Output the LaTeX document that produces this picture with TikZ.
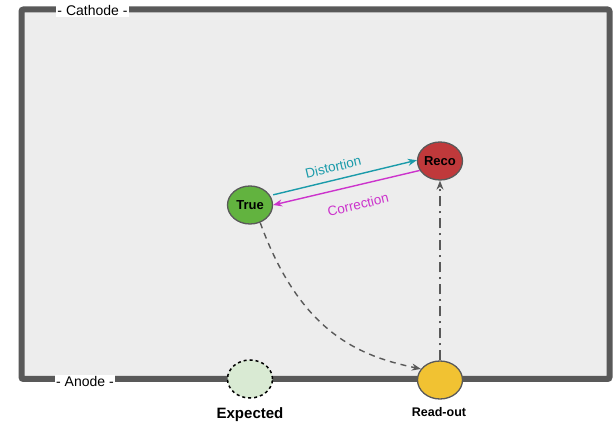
\documentclass[tikz,border=0pt]{standalone}
\usepackage{fontspec}
\setmainfont{Liberation Sans}
\usetikzlibrary{arrows.meta,shapes.geometric}
\definecolor{chamber}{HTML}{595959}
\definecolor{chamberfill}{HTML}{EDEDED}
\definecolor{truegreen}{HTML}{62B33F}
\definecolor{recored}{HTML}{C0393B}
\definecolor{readyellow}{HTML}{F1C232}
\definecolor{expgreen}{HTML}{D9EAD3}
\definecolor{distcol}{HTML}{1A9BAA}
\definecolor{corrcol}{HTML}{CC33CC}
\begin{document}
\begin{tikzpicture}[x=1pt,y=1pt,
  spot/.style={ellipse, draw=chamber, line width=1.3pt, minimum width=45pt, minimum height=38pt, inner sep=0pt, font=\bfseries\fontsize{13}{13}\selectfont},
  elabel/.style={fill=white, inner sep=1pt, font=\fontsize{14}{14}\selectfont},
  flow/.style={line width=1.4pt, -{Stealth[length=9pt, width=7pt]}}]
\useasboundingbox (0,0) rectangle (614,423);
\draw[line width=6pt, draw=chamber, fill=chamberfill, rounded corners=2pt] (21.5,413.5) rectangle (609.5,44);
\node[elabel] (cathode) at (92.5,412) {- Cathode -};
\node[elabel] (anode) at (85,42) {- Anode -};
% positions
\node[spot, fill=truegreen] (true) at (250,218) {True};
\node[spot, fill=recored] (reco) at (440,262) {Reco};
\node[spot, fill=expgreen, draw=black, dashed, line width=1.5pt] (expected) at (250,44) {};
\node[spot, fill=readyellow] (readout) at (440,43) {};
\node[font=\bfseries\fontsize{15}{15}\selectfont] (explabel) at (250,8) {Expected};
\node[font=\bfseries\fontsize{12.5}{12.5}\selectfont] (readlabel) at (439,11) {Read-out};
% arrows
\draw[flow, draw=distcol, shorten <=3pt] (true.25) -- node[pos=0.45, above=4pt, sloped, text=distcol, font=\fontsize{13.5}{13.5}\selectfont]{Distortion} (reco.178);
\draw[flow, draw=corrcol] (reco.205) -- node[pos=0.45, below=10pt, sloped, text=corrcol, font=\fontsize{13.5}{13.5}\selectfont]{Correction} (true.0);
\draw[flow, draw=chamber, dashed, dash pattern=on 6pt off 5pt] (true.300) .. controls +(-70:120) and +(168:60) .. (readout.150);
\draw[flow, draw=chamber, dash pattern=on 10pt off 5pt on 2pt off 5pt] (readout.north) -- (reco.south);
\end{tikzpicture}
\end{document}
